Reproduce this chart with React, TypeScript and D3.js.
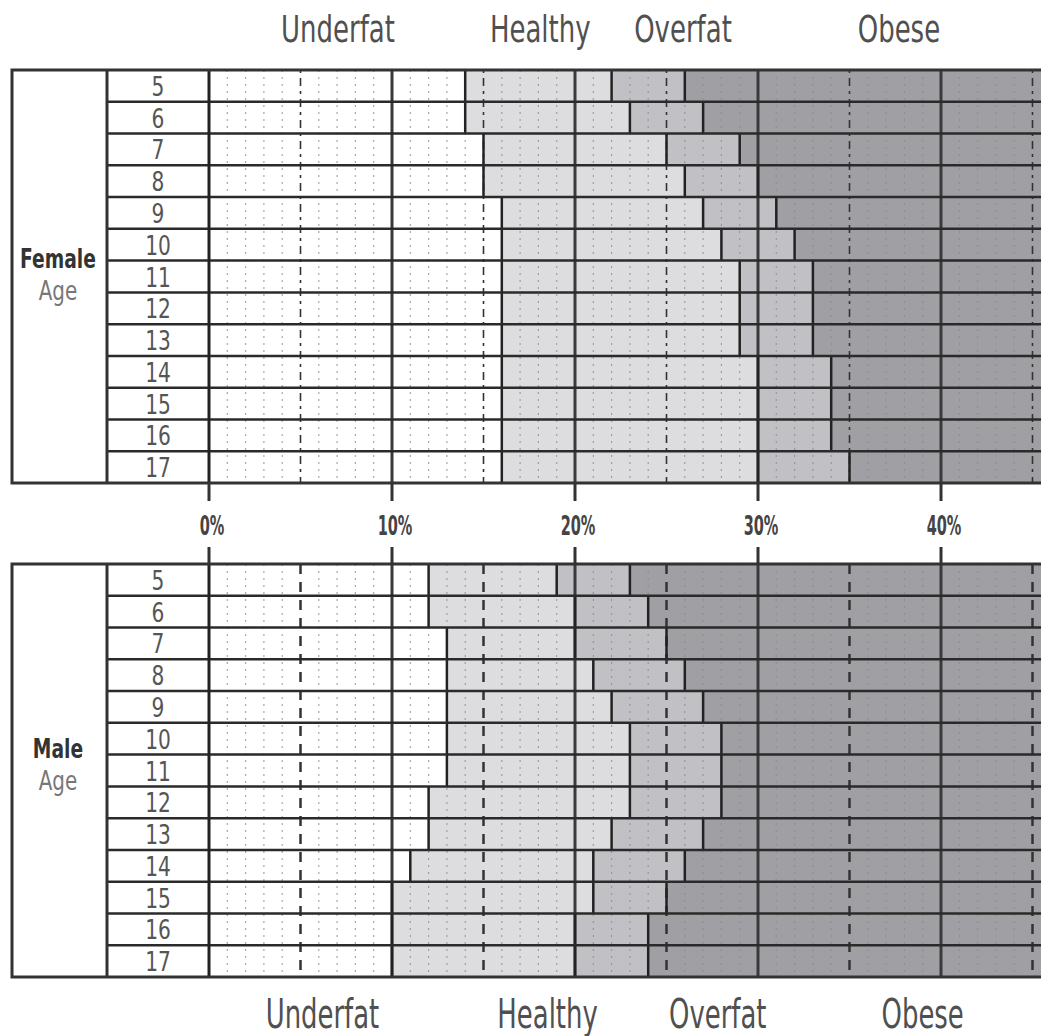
import React from 'react';
import * as d3 from 'd3';

const ages = [5, 6, 7, 8, 9, 10, 11, 12, 13, 14, 15, 16, 17];
const categories = ['Underfat', 'Healthy', 'Overfat', 'Obese'];
// upper bound (%) of each category per age
const femaleUnderfatMax = [14, 14, 15, 15, 16, 16, 16, 16, 16, 16, 16, 16, 16];
const femaleHealthyMax = [22, 23, 25, 26, 27, 28, 29, 29, 29, 30, 30, 30, 30];
const femaleOverfatMax = [26, 27, 29, 30, 31, 32, 33, 33, 33, 34, 34, 34, 35];
const maleUnderfatMax = [12, 12, 13, 13, 13, 13, 13, 12, 12, 11, 10, 10, 10];
const maleHealthyMax = [19, 20, 20, 21, 22, 23, 23, 23, 22, 21, 21, 20, 20];
const maleOverfatMax = [23, 24, 25, 26, 27, 28, 28, 28, 27, 26, 25, 24, 24];
const tickValues = [0, 10, 20, 30, 40];
const tickLabels = ['0%', '10%', '20%', '30%', '40%'];

const FONT = "'DejaVu Sans Condensed', 'DejaVu Sans', sans-serif";
const fills = ['#ffffff', '#dddde0', '#c1c1c5', '#a0a0a4'];
const LEFT = 12;
const AGE_X0 = 107;
const X0 = 209;
const W = 1041;
const xMaxPct = (W - X0) / 18.3;

const x = d3.scaleLinear().domain([0, xMaxPct]).range([X0, W]);

type CTextProps = {
  x: number;
  y: number;
  sx: number;
  size: number;
  fill: string;
  bold?: boolean;
  children: React.ReactNode;
};

function CText({ x: tx, y: ty, sx, size, fill, bold, children }: CTextProps) {
  return (
    <text transform={`translate(${tx},${ty}) scale(${sx},1)`} textAnchor="middle"
      fontFamily={FONT} fontSize={size} fontWeight={bold ? 'bold' : 'normal'} fill={fill}>
      {children}
    </text>
  );
}

type PanelProps = {
  top: number;
  bottom: number;
  under: number[];
  healthy: number[];
  over: number[];
  title: string;
  titleY: number;
  male: boolean;
};

function Panel({ top, bottom, under, healthy, over, title, titleY, male }: PanelProps) {
  const y = d3.scaleBand<number>().domain(ages).range([top, bottom]).paddingInner(0);
  const bw = y.bandwidth();
  const minor = d3.range(1, Math.floor(xMaxPct) + 1).filter((v) => v % 5 !== 0);
  const mids = d3.range(5, xMaxPct, 10);
  const majors = d3.range(10, xMaxPct, 10);
  return (
    <g>
      {ages.map((a, i) => {
        const bounds = [0, under[i], healthy[i], over[i], xMaxPct];
        const y0 = y(a)!;
        return (
          <g key={a}>
            {categories.map((c, k) => (
              <rect
                key={c}
                x={x(bounds[k])}
                y={y0}
                width={x(bounds[k + 1]) - x(bounds[k])}
                height={bw}
                fill={fills[k]}
              />
            ))}
          </g>
        );
      })}
      {minor.map((v) => (
        <line key={'m' + v} x1={x(v)} x2={x(v)} y1={top} y2={bottom}
          stroke="#8a8a8a" strokeWidth={1.2} strokeDasharray="2,5" opacity={0.75} />
      ))}
      {mids.map((v) => (
        <line key={'d' + v} x1={x(v)} x2={x(v)} y1={top} y2={bottom}
          stroke="#333" strokeWidth={male ? 2.5 : 1.6}
          strokeDasharray={male ? '10,8' : '3,5,8,5'} />
      ))}
      {majors.map((v) => (
        <line key={'M' + v} x1={x(v)} x2={x(v)} y1={top} y2={bottom}
          stroke="#3a3a3a" strokeWidth={3} />
      ))}
      {ages.map((a, i) => {
        const y0 = y(a)!;
        return [under[i], healthy[i], over[i]].map((v, k) => (
          <line key={a + '-' + k} x1={x(v)} x2={x(v)} y1={y0} y2={y0 + bw}
            stroke="#222" strokeWidth={2.5} />
        ));
      })}
      {ages.slice(1).map((a) => (
        <line key={'r' + a} x1={AGE_X0} x2={W} y1={y(a)!} y2={y(a)!}
          stroke="#2a2a2a" strokeWidth={2.5} />
      ))}
      {ages.map((a) => (
        <CText key={'t' + a} x={158} y={y(a)! + bw / 2 + 10} sx={0.83} size={27} fill="#555">
          {a}
        </CText>
      ))}
      <line x1={X0} x2={X0} y1={top} y2={bottom} stroke="#222" strokeWidth={3} />
      <line x1={AGE_X0} x2={AGE_X0} y1={top} y2={bottom} stroke="#333" strokeWidth={3} />
      <rect x={LEFT} y={top} width={W + 10 - LEFT} height={bottom - top}
        fill="none" stroke="#333" strokeWidth={3} />
      <CText x={58} y={titleY} sx={0.77} size={27} fill="#333" bold>{title}</CText>
      <CText x={58} y={titleY + 32} sx={0.82} size={27} fill="#777">Age</CText>
    </g>
  );
}

export default function App() {
  const fTop = 70, fBot = 483, mTop = 564, mBot = 977;
  const topHeaderPct = [7.05, 18.1, 25.9, 37.7];
  const bottomHeaderPct = [6.2, 18.5, 27.8, 39.0];
  return (
    <svg width={1041} height={1036} style={{ position: 'absolute', left: 0, top: 0, background: '#fff' }}>
      <rect x={0} y={0} width={1041} height={1036} fill="#fff" />
      {categories.map((c, k) => (
        <CText key={'h' + c} x={x(topHeaderPct[k])} y={42} sx={0.76} size={38} fill="#505050">
          {c}
        </CText>
      ))}
      <Panel top={fTop} bottom={fBot} under={femaleUnderfatMax} healthy={femaleHealthyMax}
        over={femaleOverfatMax} title="Female" titleY={268} male={false} />
      <Panel top={mTop} bottom={mBot} under={maleUnderfatMax} healthy={maleHealthyMax}
        over={maleOverfatMax} title="Male" titleY={758} male={true} />
      {tickValues.map((v, i) => (
        <g key={'tk' + v}>
          <line x1={x(v)} x2={x(v)} y1={fBot} y2={501} stroke="#333" strokeWidth={3} />
          <line x1={x(v)} x2={x(v)} y1={547} y2={mTop} stroke="#333" strokeWidth={3} />
          <CText x={x(v) + 3} y={535} sx={0.62} size={26} fill="#444" bold>{tickLabels[i]}</CText>
        </g>
      ))}
      {categories.map((c, k) => (
        <CText key={'b' + c} x={x(bottomHeaderPct[k])} y={1028} sx={0.72} size={40} fill="#505050">
          {c}
        </CText>
      ))}
    </svg>
  );
}
